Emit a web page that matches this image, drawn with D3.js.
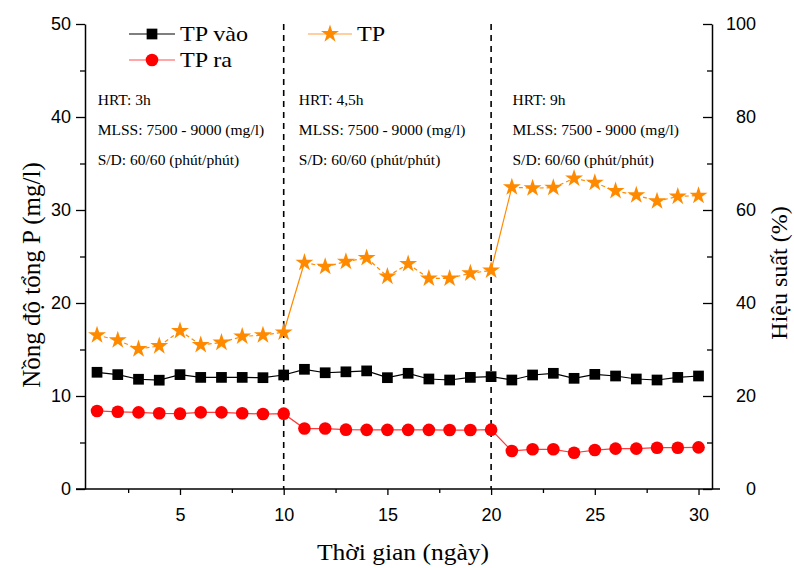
<!DOCTYPE html>
<html>
<head>
<meta charset="utf-8">
<script src="https://cdn.jsdelivr.net/npm/d3@7"></script>
<style>
  html, body { margin: 0; padding: 0; background: #fff; }
  svg { display: block; }
</style>
</head>
<body>
<svg id="chart" width="794" height="568"></svg>
<script>
// ---------------- DATA ----------------
const days = [1,2,3,4,5,6,7,8,9,10,11,12,13,14,15,16,17,18,19,20,21,22,23,24,25,26,27,28,29,30];
const tpVao = [12.55,12.3,11.8,11.7,12.3,12.0,12.0,12.0,11.97,12.26,
               12.87,12.5,12.6,12.7,11.97,12.44,11.83,11.72,12.0,12.08,
               11.72,12.26,12.44,11.9,12.33,12.15,11.83,11.72,12.0,12.15];
const tpRa = [8.39,8.3,8.24,8.14,8.1,8.24,8.24,8.14,8.06,8.1,
              6.5,6.5,6.38,6.36,6.36,6.36,6.36,6.34,6.34,6.38,
              4.09,4.27,4.27,3.9,4.19,4.34,4.34,4.44,4.44,4.48];
const tpEff = [33.1,32.0,30.1,30.75,34.0,31.0,31.5,32.8,33.1,33.7,
               48.7,47.8,48.9,49.7,45.7,48.4,45.3,45.3,46.4,47.0,
               64.9,64.7,64.8,66.8,65.9,64.1,63.2,61.9,62.9,63.1];
const phaseBreaks = [10, 20];
const phaseStarts = [0.5, 10.2, 20.5];
const annotations = [
  ["HRT: 3h", "MLSS: 7500 - 9000 (mg/l)", "S/D: 60/60 (phút/phút)"],
  ["HRT: 4,5h", "MLSS: 7500 - 9000 (mg/l)", "S/D: 60/60 (phút/phút)"],
  ["HRT: 9h", "MLSS: 7500 - 9000 (mg/l)", "S/D: 60/60 (phút/phút)"]
];
const xTicks = [5,10,15,20,25,30];
const xMinor = [2.5,7.5,12.5,17.5,22.5,27.5];
const yLTicks = [0,10,20,30,40,50];
const yLMinor = [5,15,25,35,45];
const yRTicks = [0,20,40,60,80,100];
const yRMinor = [10,30,50,70,90];
const legendNames = ["TP vào", "TP ra", "TP"];
const xTitle = "Thời gian (ngày)";
const yLTitle = "Nồng độ tổng P (mg/l)";
const yRTitle = "Hiệu suất (%)";

// ---------------- LAYOUT ----------------
const L = 85, R = 712, T = 24, B = 489;
const svg = d3.select("#chart");
const x = d3.scaleLinear().domain([0.42, 30.65]).range([L, R]);
const yL = d3.scaleLinear().domain([0, 50]).range([B, T]);
const yR = d3.scaleLinear().domain([0, 100]).range([B, T]);

const sans = "'Liberation Sans', Arial, sans-serif";
const serif = "'Liberation Serif', 'Times New Roman', serif";
const orange = "#ff8a00";
const red = "#ff0000";
const SX = 1.11; // horizontal stretch of serif text in the reference

// ---------------- AXES ----------------
function styleAxis(g) {
  g.selectAll("path.domain").attr("stroke", "#000").attr("stroke-width", 1.5);
  g.selectAll(".tick line").attr("stroke", "#000").attr("stroke-width", 1.3);
  g.selectAll(".tick text").attr("font-family", sans).attr("font-size", 18).attr("fill", "#000");
}

// bottom
const gx = svg.append("g").attr("transform", `translate(0,${B})`)
  .call(d3.axisBottom(x).tickValues(xTicks).tickFormat(d3.format("d")).tickSize(6).tickSizeOuter(0).tickPadding(13));
styleAxis(gx);
gx.select("path.domain").remove();
gx.append("line").attr("x1", 76).attr("x2", 720).attr("y1", 0).attr("y2", 0)
  .attr("stroke", "#000").attr("stroke-width", 1.5);
svg.append("g").attr("transform", `translate(0,${B})`)
  .call(d3.axisBottom(x).tickValues(xMinor).tickFormat("").tickSize(4).tickSizeOuter(0))
  .call(g => { g.select("path.domain").remove(); g.selectAll("line").attr("stroke", "#000").attr("stroke-width", 1.3); });

// left
const gl = svg.append("g").attr("transform", `translate(${L},0)`)
  .call(d3.axisLeft(yL).tickValues(yLTicks).tickFormat(d3.format("d")).tickSize(9).tickSizeOuter(0).tickPadding(5));
styleAxis(gl);
svg.append("g").attr("transform", `translate(${L},0)`)
  .call(d3.axisLeft(yL).tickValues(yLMinor).tickFormat("").tickSize(5).tickSizeOuter(0))
  .call(g => { g.select("path.domain").remove(); g.selectAll("line").attr("stroke", "#000").attr("stroke-width", 1.3); });

// right (ticks inward)
const gr = svg.append("g").attr("transform", `translate(${R},0)`)
  .call(d3.axisRight(yR).tickValues(yRTicks).tickFormat(d3.format("d")).tickSize(-9).tickSizeOuter(0));
styleAxis(gr);
gr.selectAll(".tick text").attr("x", 44).attr("text-anchor", "end");
svg.append("g").attr("transform", `translate(${R},0)`)
  .call(d3.axisRight(yR).tickValues(yRMinor).tickFormat("").tickSize(-5).tickSizeOuter(0))
  .call(g => { g.select("path.domain").remove(); g.selectAll("line").attr("stroke", "#000").attr("stroke-width", 1.3); });

// axis titles
svg.append("text").attr("transform", `translate(403,560) scale(${SX},1)`).attr("text-anchor", "middle")
  .attr("font-family", serif).attr("font-size", 23).text(xTitle);
svg.append("text").attr("transform", "translate(40,275) rotate(-90)").attr("text-anchor", "middle")
  .attr("font-family", serif).attr("font-size", 25).text(yLTitle);
svg.append("text").attr("transform", "translate(787,273) rotate(-90)").attr("text-anchor", "middle")
  .attr("font-family", serif).attr("font-size", 24).text(yRTitle);

// ---------------- PHASE LINES ----------------
svg.selectAll("line.phase").data(phaseBreaks).join("line")
  .attr("class", "phase")
  .attr("x1", d => x(d)).attr("x2", d => x(d))
  .attr("y1", T).attr("y2", B)
  .attr("stroke", "#000").attr("stroke-width", 1.6).attr("stroke-dasharray", "6,5");

// annotations
annotations.forEach((lines, i) => {
  svg.append("g").selectAll("text").data(lines).join("text")
    .attr("transform", (d, j) => `translate(${x(phaseStarts[i]) + 11},${105 + j * 30}) scale(${SX},1)`)
    .attr("font-family", serif).attr("font-size", 14).attr("fill", "#000")
    .text(d => d);
});

// ---------------- SERIES ----------------
const pts = (vals, sc) => days.map((d, i) => [x(d), sc(vals[i])]);
const line = d3.line();

// TP vào
svg.append("path").attr("d", line(pts(tpVao, yL))).attr("fill", "none")
  .attr("stroke", "#000").attr("stroke-width", 1.2);
// TP ra
svg.append("path").attr("d", line(pts(tpRa, yL))).attr("fill", "none")
  .attr("stroke", "#ff3a3a").attr("stroke-width", 1.2);
// TP efficiency: dashed within phase, solid across breaks
const effPts = pts(tpEff, yR);
const segs = d3.pairs(days.map((d, i) => i)).map(([a, b]) => ({
  a: effPts[a], b: effPts[b], jump: phaseBreaks.includes(days[a])
}));
svg.append("g").selectAll("line").data(segs).join("line")
  .attr("x1", d => d.a[0]).attr("y1", d => d.a[1])
  .attr("x2", d => d.b[0]).attr("y2", d => d.b[1])
  .attr("stroke", orange).attr("stroke-width", 1.2)
  .attr("stroke-dasharray", d => d.jump ? null : "4,3");

const sq = d3.symbol().type(d3.symbolSquare).size(115)();
const ci = d3.symbol().type(d3.symbolCircle).size(125)();
const st = d3.symbol().type(d3.symbolStar).size(100)();

svg.append("g").selectAll("path").data(days).join("path")
  .attr("d", sq).attr("transform", (d, i) => `translate(${x(d)},${yL(tpVao[i])})`)
  .attr("fill", "#000");
svg.append("g").selectAll("path").data(days).join("path")
  .attr("d", ci).attr("transform", (d, i) => `translate(${x(d)},${yL(tpRa[i])})`)
  .attr("fill", red);
svg.append("g").selectAll("path").data(days).join("path")
  .attr("d", st).attr("transform", (d, i) => `translate(${x(d)},${yR(tpEff[i])})`)
  .attr("fill", orange);

// ---------------- LEGEND ----------------
const leg = [
  { name: legendNames[0], x0: 129, x1: 175, y: 34, color: "#000", sym: sq, fill: "#000" },
  { name: legendNames[1], x0: 129, x1: 175, y: 60, color: "#ff5050", sym: ci, fill: red },
  { name: legendNames[2], x0: 308, x1: 352, y: 34, color: "#ffa040", sym: st, fill: orange }
];
const lg = svg.append("g").selectAll("g").data(leg).join("g");
lg.append("line").attr("x1", d => d.x0).attr("x2", d => d.x1).attr("y1", d => d.y).attr("y2", d => d.y)
  .attr("stroke", d => d.color).attr("stroke-width", 1.2);
lg.append("path").attr("d", d => d.sym).attr("fill", d => d.fill)
  .attr("transform", d => `translate(${(d.x0 + d.x1) / 2},${d.y})`);
lg.append("text").attr("transform", d => `translate(${d.x1 + 5},${d.y + 7}) scale(1.15,1)`)
  .attr("font-family", serif).attr("font-size", 21).attr("fill", "#000").text(d => d.name);
</script>
</body>
</html>
